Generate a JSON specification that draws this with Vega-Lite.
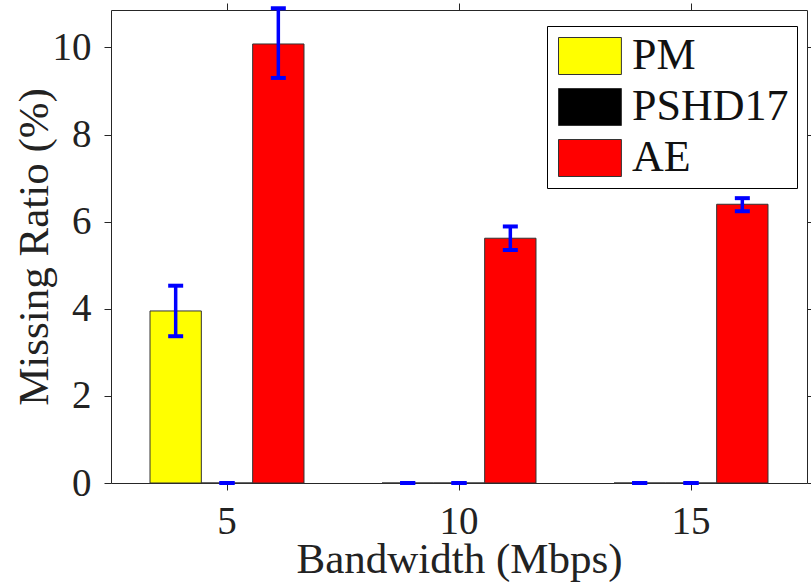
{
  "$schema": "https://vega.github.io/schema/vega-lite/v6.json",
  "width": 696,
  "height": 473,
  "autosize": {"type": "none"},
  "padding": {"left": 111, "top": 10, "right": 4, "bottom": 99},
  "background": "white",
  "config": {
    "view": {"stroke": null},
    "font": "Liberation Serif, Times New Roman, serif",
    "axis": {
      "domainColor": "#262626",
      "domainWidth": 1,
      "tickColor": "#262626",
      "tickWidth": 1,
      "tickSize": 7,
      "grid": false,
      "labelFont": "Liberation Serif, Times New Roman, serif",
      "labelFontSize": 39,
      "labelColor": "#222222",
      "titleFont": "Liberation Serif, Times New Roman, serif",
      "titleFontSize": 44,
      "titleFontWeight": "normal",
      "titleColor": "#222222"
    }
  },
  "data": {
    "values": [
      {"bandwidth": 5, "method": "PM", "value": 3.95, "lo": 3.37, "hi": 4.53},
      {"bandwidth": 5, "method": "PSHD17", "value": 0, "lo": 0, "hi": 0},
      {"bandwidth": 5, "method": "AE", "value": 10.08, "lo": 9.3, "hi": 10.9},
      {"bandwidth": 10, "method": "PM", "value": 0, "lo": 0, "hi": 0},
      {"bandwidth": 10, "method": "PSHD17", "value": 0, "lo": 0, "hi": 0},
      {"bandwidth": 10, "method": "AE", "value": 5.62, "lo": 5.35, "hi": 5.89},
      {"bandwidth": 15, "method": "PM", "value": 0, "lo": 0, "hi": 0},
      {"bandwidth": 15, "method": "PSHD17", "value": 0, "lo": 0, "hi": 0},
      {"bandwidth": 15, "method": "AE", "value": 6.4, "lo": 6.24, "hi": 6.54}
    ]
  },
  "layer": [
    {
      "mark": {"type": "bar", "stroke": "#333333", "strokeWidth": 1},
      "encoding": {
        "x": {
          "field": "bandwidth", "type": "ordinal",
          "scale": {"type": "band", "paddingInner": 0, "paddingOuter": 0},
          "axis": {"orient": "bottom", "labelAngle": 0, "labelPadding": 12, "title": "Bandwidth (Mbps)", "titlePadding": -3, "titleFontSize": 43}
        },
        "xOffset": {
          "field": "method", "type": "nominal", "sort": ["PM", "PSHD17", "AE"],
          "scale": {"paddingInner": 0, "paddingOuter": 0.76}
        },
        "y": {
          "field": "value", "type": "quantitative",
          "scale": {"domain": [0, 10.86], "nice": false, "zero": true},
          "axis": {"orient": "left", "values": [0, 2, 4, 6, 8, 10], "labelPadding": 13, "title": "Missing Ratio (%)", "titlePadding": -4, "titleFontSize": 43}
        },
        "color": {
          "field": "method", "type": "nominal",
          "scale": {"domain": ["PM", "PSHD17", "AE"], "range": ["#ffff00", "#000000", "#ff0000"]},
          "legend": {
            "orient": "none",
            "legendX": 436,
            "legendY": 16,
            "title": null,
            "padding": 8,
            "strokeColor": "#000000",
            "fillColor": "#ffffff",
            "cornerRadius": 0,
            "symbolType": "M-1,-1H2.4V1H-1Z",
            "symbolSize": 1369,
            "symbolStrokeColor": "#333333",
            "symbolStrokeWidth": 1,
            "symbolOpacity": 1,
            "labelFont": "Liberation Serif, Times New Roman, serif",
            "labelFontSize": 44,
            "labelColor": "#111111",
            "labelOffset": 33,
            "rowPadding": 7,
            "labelLimit": 400
          }
        }
      }
    },
    {
      "mark": {"type": "rule", "color": "#0000ff", "strokeWidth": 3.5},
      "encoding": {
        "x": {"field": "bandwidth", "type": "ordinal", "axis": {"orient": "top", "labels": false, "title": null}},
        "xOffset": {"field": "method", "type": "nominal", "sort": ["PM", "PSHD17", "AE"]},
        "y": {"field": "lo", "type": "quantitative", "axis": {"orient": "right", "labels": false, "title": null, "values": [0, 2, 4, 6, 8, 10]}},
        "y2": {"field": "hi"}
      }
    },
    {
      "mark": {"type": "tick", "color": "#0000ff", "orient": "horizontal", "size": 15, "thickness": 4, "opacity": 1},
      "encoding": {
        "x": {"field": "bandwidth", "type": "ordinal", "axis": null},
        "xOffset": {"field": "method", "type": "nominal", "sort": ["PM", "PSHD17", "AE"]},
        "y": {"field": "lo", "type": "quantitative", "axis": null}
      }
    },
    {
      "mark": {"type": "tick", "color": "#0000ff", "orient": "horizontal", "size": 15, "thickness": 4, "opacity": 1},
      "encoding": {
        "x": {"field": "bandwidth", "type": "ordinal", "axis": null},
        "xOffset": {"field": "method", "type": "nominal", "sort": ["PM", "PSHD17", "AE"]},
        "y": {"field": "hi", "type": "quantitative", "axis": null}
      }
    }
  ],
  "resolve": {"axis": {"x": "independent", "y": "independent"}}
}
